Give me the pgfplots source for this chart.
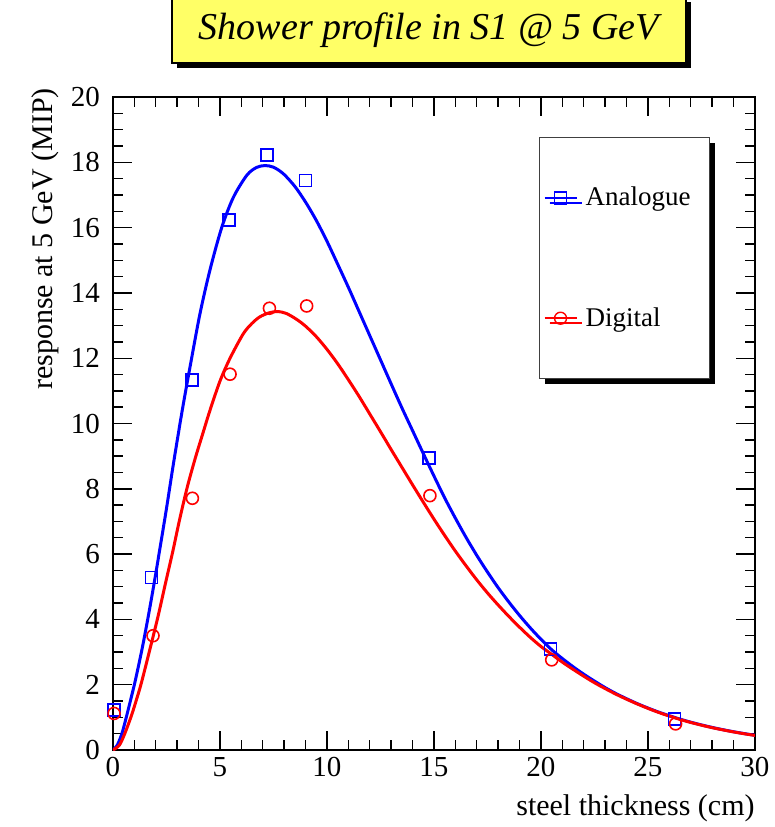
\documentclass[border=0pt]{standalone}
\usepackage{fontspec}
\setmainfont{Liberation Serif}
\usepackage{pgfplots}
\pgfplotsset{compat=1.18}
\usetikzlibrary{shadows}
\definecolor{titleyellow}{RGB}{255,255,102}
\definecolor{rootblue}{RGB}{0,0,255}
\definecolor{rootred}{RGB}{255,0,0}

\pgfplotstableread{
x y
0.05 1.22
1.79 5.28
3.68 11.33
5.42 16.23
7.21 18.22
8.99 17.44
14.78 8.95
20.45 3.09
26.23 0.95
}\anapts

\pgfplotstableread{
x y
0.05 1.12
1.87 3.50
3.71 7.71
5.47 11.51
7.31 13.53
9.05 13.60
14.81 7.79
20.50 2.76
26.29 0.80
}\digpts

\pgfplotstableread{
x y
0 0
0.2 0.15
0.42 0.51
0.62 1.00
0.83 1.55
1.04 2.12
1.36 3.10
1.65 4.10
1.92 5.10
2.20 6.20
2.50 7.40
2.82 8.75
3.24 10.42
3.68 12.02
4.07 13.38
4.53 14.70
5.08 16.00
5.62 16.92
6.25 17.60
6.70 17.84
7.10 17.90
7.50 17.85
7.96 17.65
8.50 17.26
9.00 16.78
9.50 16.22
10.00 15.58
10.50 14.88
11.00 14.17
11.50 13.43
12.00 12.69
12.50 11.95
13.00 11.21
13.50 10.48
14.00 9.78
14.50 9.08
15.00 8.39
15.50 7.72
16.00 7.10
16.50 6.51
17.00 5.96
17.50 5.45
18.00 4.97
18.50 4.53
19.00 4.12
19.50 3.74
20.00 3.39
20.50 3.07
21.00 2.80
21.50 2.55
22.00 2.32
22.50 2.11
23.00 1.91
23.50 1.73
24.00 1.57
24.50 1.42
25.00 1.285
25.50 1.16
26.00 1.05
26.50 0.945
27.00 0.852
27.50 0.768
28.00 0.691
28.50 0.622
29.00 0.559
29.50 0.502
30.00 0.451
}\anacurve

\pgfplotstableread{
x y
0 0
0.3 0.15
0.55 0.50
0.86 1.05
1.10 1.55
1.32 2.04
1.70 3.02
2.10 4.08
2.45 5.10
2.80 6.10
3.11 7.05
3.47 8.05
3.85 8.95
4.20 9.70
4.53 10.40
5.00 11.30
5.47 12.00
6.09 12.75
6.50 13.07
6.87 13.27
7.30 13.39
7.70 13.43
8.10 13.37
8.58 13.19
9.00 12.98
9.50 12.66
10.00 12.27
10.50 11.83
11.00 11.34
11.50 10.83
12.00 10.29
12.50 9.75
13.00 9.20
13.50 8.66
14.00 8.12
14.50 7.59
15.00 7.07
15.50 6.57
16.00 6.09
16.50 5.64
17.00 5.21
17.50 4.81
18.00 4.44
18.50 4.09
19.00 3.76
19.50 3.45
20.00 3.17
20.50 2.93
21.00 2.69
21.50 2.47
22.00 2.26
22.50 2.06
23.00 1.88
23.50 1.71
24.00 1.555
24.50 1.41
25.00 1.275
25.50 1.15
26.00 1.04
26.50 0.935
27.00 0.843
27.50 0.760
28.00 0.684
28.50 0.616
29.00 0.554
29.50 0.497
30.00 0.447
}\digcurve

\begin{document}
\begin{tikzpicture}
\useasboundingbox (-56.5pt,-38.5pt) rectangle (331pt,375pt);
\begin{axis}[
  at={(0pt,0pt)}, anchor=south west,
  scale only axis, width=321pt, height=326.5pt,
  xmin=0, xmax=30, ymin=0, ymax=20,
  xtick distance=5, ytick distance=2,
  minor x tick num=4, minor y tick num=3,
  tick align=inside, xtick pos=both, ytick pos=both,
  major tick length=9.5pt, minor tick length=5pt,
  axis line style={line width=0.9pt},
  every tick/.style={black, line width=0.7pt},
  tick label style={font=\fontsize{14.5}{14.5}\selectfont},
  /pgf/number format/assume math mode=true,
  yticklabel style={xshift=-3pt},
  xlabel={steel thickness (cm)},
  xlabel style={at={(axis description cs:1,0)}, anchor=north east, yshift=-22pt, inner sep=0pt, font=\fontsize{15}{15}\selectfont},
  ylabel={response at 5 GeV (MIP)},
  ylabel style={at={(axis description cs:-0.106,1.014)}, anchor=east, inner sep=0pt, font=\fontsize{15}{15}\selectfont},
  title={Shower profile in S1 @ 5 GeV},
  title style={at={(axis description cs:0.492,1.0842)}, anchor=center, draw=black, line width=1pt, fill=titleyellow,
    minimum width=257pt, minimum height=33pt, inner sep=0pt, font=\itshape\fontsize{19}{19}\selectfont,
    drop shadow={shadow xshift=2.5pt, shadow yshift=-2.5pt, opacity=1, fill=black}},
  legend style={at={(axis description cs:0.6636,0.9387)}, anchor=north west,
    draw=black!75, line width=0.5pt, fill=white,
    inner xsep=2pt, inner ysep=24.85pt, row sep=49.2pt,
    nodes={inner sep=0pt}, cells={anchor=west},
    font=\fontsize{13.5}{13.5}\selectfont,
    drop shadow={shadow xshift=2.5pt, shadow yshift=-2.5pt, opacity=1, fill=black}},
  legend image code/.code={\draw[mark repeat=2,mark phase=2,#1] plot coordinates {(0pt,0pt) (8pt,0pt) (16pt,0pt)};},
]
\addplot[rootblue, line width=1.5pt, smooth, no marks, forget plot] table {\anacurve};
\addplot[rootred, line width=1.5pt, smooth, no marks, forget plot] table {\digcurve};
\addplot[rootblue, only marks, mark=square, mark size=3pt, mark options={line width=0.8pt}, forget plot] table {\anapts};
\addplot[rootred, only marks, mark=o, mark size=3pt, mark options={line width=0.8pt}, forget plot] table {\digpts};
\addlegendimage{rootblue, line width=1pt, mark=square, mark size=3pt, mark options={line width=0.7pt}}
\addlegendentry{\hspace*{4pt}\makebox[60pt][l]{Analogue}}
\addlegendimage{rootred, line width=1pt, mark=o, mark size=3pt, mark options={line width=0.7pt}}
\addlegendentry{\hspace*{4pt}\makebox[60pt][l]{Digital}}
\end{axis}
\end{tikzpicture}
\end{document}
